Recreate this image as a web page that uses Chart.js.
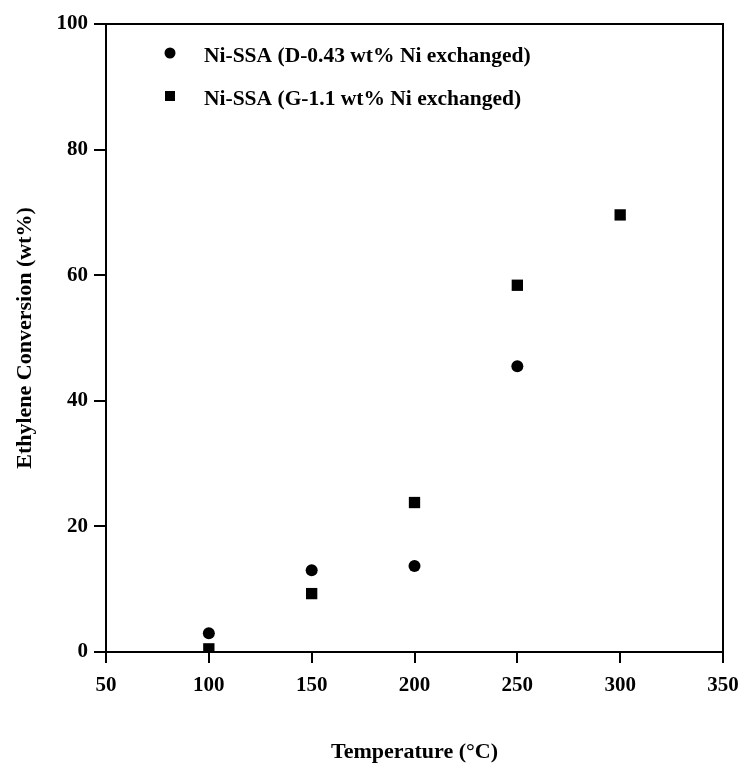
<!DOCTYPE html>
<html>
<head>
<meta charset="utf-8">
<script src="https://cdn.jsdelivr.net/npm/chart.js@4/dist/chart.umd.min.js"></script>
<style>
  html, body { margin: 0; padding: 0; background: #fff; }
  #wrap { width: 740px; height: 770px; }
</style>
</head>
<body>
<div id="wrap"><canvas id="conversionChart"></canvas></div>
<script>
// temperatures (°C) and ethylene conversion (wt%)
const tempsD = [100, 150, 200, 250];
const convD = [3.0, 13.0, 13.7, 45.5];
const tempsG = [100, 150, 200, 250, 300];
const convG = [0.5, 9.3, 23.8, 58.4, 69.6];
const labelD = 'Ni-SSA (D-0.43 wt% Ni exchanged)';
const labelG = 'Ni-SSA (G-1.1 wt% Ni exchanged)';
const xTicks = [50, 100, 150, 200, 250, 300, 350];
const yTicks = [0, 20, 40, 60, 80, 100];

const serif = '"Liberation Serif", "Times New Roman", serif';
const toPoints = (xs, ys) => xs.map((x, i) => ({ x: x, y: ys[i] }));

// box around plot area + legend drawn inside it
const frameAndLegend = {
  id: 'frameAndLegend',
  afterDraw(chart) {
    const { ctx, chartArea: a } = chart;
    ctx.save();
    ctx.strokeStyle = '#000';
    ctx.lineWidth = 2;
    ctx.strokeRect(a.left, a.top, a.right - a.left, a.bottom - a.top);

    ctx.fillStyle = '#000';
    ctx.font = 'bold 21.5px ' + serif;
    ctx.textBaseline = 'middle';
    chart.data.datasets.forEach((ds, i) => {
      const mx = a.left + 64;
      const my = a.top + 29 + i * 43;
      ctx.beginPath();
      if (ds.pointStyle === 'rect') {
        ctx.rect(mx - 5, my - 5, 10, 10);
      } else {
        ctx.arc(mx, my, 5.5, 0, Math.PI * 2);
      }
      ctx.fill();
      ctx.fillText(ds.label, a.left + 98, my + 3);
    });
    ctx.restore();
  }
};

new Chart(document.getElementById('conversionChart'), {
  type: 'scatter',
  data: {
    datasets: [
      {
        label: labelD,
        data: toPoints(tempsD, convD),
        pointStyle: 'circle',
        pointRadius: 6,
        backgroundColor: '#000',
        borderColor: '#000',
        borderWidth: 0
      },
      {
        label: labelG,
        data: toPoints(tempsG, convG),
        pointStyle: 'rect',
        pointRadius: 8,
        backgroundColor: '#000',
        borderColor: '#000',
        borderWidth: 0
      }
    ]
  },
  options: {
    responsive: true,
    maintainAspectRatio: false,
    animation: false,
    layout: { padding: { top: 24, right: 0, left: 0, bottom: 0 } },
    plugins: {
      legend: { display: false },
      tooltip: { enabled: false }
    },
    scales: {
      x: {
        type: 'linear',
        min: 50,
        max: 350,
        afterBuildTicks: s => { s.ticks = xTicks.map(v => ({ value: v })); },
        afterFit: s => { s.height = 118; s.paddingRight = 17; },
        border: { display: true, color: '#000', width: 2 },
        grid: { drawOnChartArea: false, drawTicks: true, tickLength: 11, color: '#000', lineWidth: 2 },
        ticks: {
          color: '#000',
          padding: 10,
          maxRotation: 0,
          font: { family: serif, size: 21, weight: 'bold' }
        },
        title: {
          display: true,
          text: 'Temperature (°C)',
          color: '#000',
          padding: { top: 0, bottom: 4 },
          font: { family: serif, size: 22, weight: 'bold' }
        }
      },
      y: {
        min: 0,
        max: 100,
        afterBuildTicks: s => { s.ticks = yTicks.map(v => ({ value: v })); },
        afterFit: s => { s.width = 106; },
        border: { display: true, color: '#000', width: 2 },
        grid: { drawOnChartArea: false, drawTicks: true, tickLength: 12, color: '#000', lineWidth: 2 },
        ticks: {
          color: '#000',
          padding: 6,
          font: { family: serif, size: 21, weight: 'bold' }
        },
        title: {
          display: true,
          text: 'Ethylene Conversion (wt%)',
          color: '#000',
          padding: { top: 12, bottom: 0 },
          font: { family: serif, size: 22, weight: 'bold' }
        }
      }
    }
  },
  plugins: [frameAndLegend]
});
</script>
</body>
</html>
